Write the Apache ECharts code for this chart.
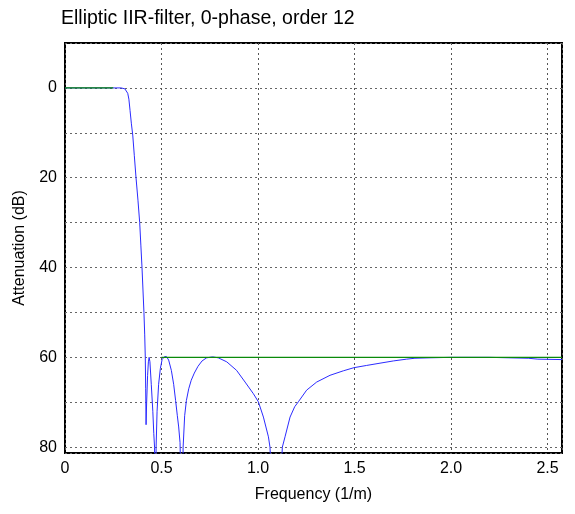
<!DOCTYPE html>
<html>
<head>
<meta charset="utf-8">
<script src="https://cdn.jsdelivr.net/npm/echarts@6/dist/echarts.min.js"></script>
<style>html,body{margin:0;padding:0;background:#fff;}#c{width:575px;height:514px;}</style>
</head>
<body>
<div id="c"></div>
<script>
const titleText = "Elliptic IIR-filter, 0-phase, order 12";
const xName = "Frequency (1/m)";
const yName = "Attenuation (dB)";
const xTickLabels = [0, 0.5, 1.0, 1.5, 2.0, 2.5];
const yTickLabels = [0, 20, 40, 60, 80];

// Filter response: [frequency, attenuation dB]
const responseFreq = [0, 0.1, 0.2, 0.29, 0.30, 0.31, 0.318, 0.325, 0.331, 0.337, 0.344, 0.351, 0.359, 0.368, 0.378, 0.387, 0.393, 0.399, 0.404, 0.409, 0.413, 0.416, 0.418, 0.420, 0.423, 0.428, 0.432, 0.436, 0.440, 0.447, 0.455, 0.460, 0.464, 0.469, 0.472, 0.477, 0.485, 0.494, 0.503, 0.514, 0.525, 0.537, 0.551, 0.563, 0.573, 0.582, 0.589, 0.596, 0.606, 0.612, 0.620, 0.629, 0.641, 0.654, 0.670, 0.689, 0.710, 0.734, 0.765, 0.794, 0.838, 0.889, 0.933, 0.976, 1.002, 1.028, 1.054, 1.062, 1.095, 1.126, 1.140, 1.166, 1.19, 1.209, 1.252, 1.304, 1.373, 1.442, 1.497, 1.563, 1.632, 1.701, 1.77, 1.813, 1.891, 2.0, 2.2, 2.3, 2.4, 2.45, 2.575];
const responseDb =   [0, 0, 0, 0, 0.05, 0.2, 0.5, 1.2, 2.5, 5, 8, 10.5, 15, 20, 25, 30, 35, 40, 45, 50, 55, 60, 67, 75, 70, 64, 61, 60, 61, 66, 72, 77, 80, 100, 80, 72, 66, 62.5, 60.5, 59.9, 59.8, 60.6, 62.9, 66, 69.6, 73, 75.5, 79, 100, 80, 73, 69.6, 67, 65.1, 63.5, 62, 60.8, 60.1, 59.9, 60.1, 61.0, 62.9, 65.5, 68.1, 69.9, 73.3, 77.7, 80, 110, 80, 77.7, 73.3, 71, 69.9, 67.3, 65.5, 64, 63, 62.3, 61.8, 61.3, 60.8, 60.4, 60.2, 60.1, 60.0, 60.0, 60.1, 60.2, 60.4, 60.5];

// Specification lines
const passFreq = [0, 0.25];
const passDb = [0, 0];
const stopFreq = [0.5, 2.575];
const stopDb = [60, 60];

const zip = (a, b) => a.map((v, i) => [v, b[i]]);

const chart = echarts.init(document.getElementById('c'), null, {renderer: 'canvas'});
const font = 'Liberation Sans, Arial, Helvetica, sans-serif';
chart.setOption({
  animation: false,
  backgroundColor: '#fff',
  title: {
    text: titleText,
    left: 56, top: 4,
    textStyle: {fontFamily: font, fontSize: 19.5, fontWeight: 'normal', color: '#000'}
  },
  grid: {
    left: 65, top: 43, right: 13, bottom: 61,
    show: true, borderColor: '#000', borderWidth: 2, backgroundColor: 'transparent'
  },
  xAxis: {
    type: 'value', min: 0, max: 2.575, interval: 0.5,
    name: xName, nameLocation: 'middle', nameGap: 34,
    nameTextStyle: {fontFamily: font, fontSize: 16, color: '#000'},
    axisLine: {show: false}, axisTick: {show: false},
    axisLabel: {
      fontFamily: font, fontSize: 16, color: '#000', margin: 8,
      formatter: v => {
        const m = xTickLabels.find(t => Math.abs(t - v) < 1e-6);
        return m === undefined ? '' : (m === 0 ? '0' : m.toFixed(1));
      }
    },
    splitLine: {show: true, lineStyle: {color: '#555', type: [2, 3], width: 1}}
  },
  yAxis: {
    type: 'value', inverse: true, min: -10, max: 81.3, interval: 10,
    name: yName, nameLocation: 'middle', nameGap: 37, nameRotate: 90,
    nameTextStyle: {fontFamily: font, fontSize: 16, color: '#000'},
    axisLine: {show: false}, axisTick: {show: false},
    axisLabel: {
      fontFamily: font, fontSize: 16, color: '#000', margin: 8,
      formatter: v => {
        const m = yTickLabels.find(t => Math.abs(t - v) < 1e-6);
        return m === undefined ? '' : String(m);
      }
    },
    splitLine: {show: true, lineStyle: {color: '#666', type: [2, 3], width: 1}}
  },
  series: [
    {
      type: 'line', data: zip(responseFreq, responseDb), showSymbol: false,
      lineStyle: {color: '#2b2bff', width: 1}, clip: true, z: 2
    },
    {
      type: 'line', data: zip(passFreq, passDb), showSymbol: false,
      lineStyle: {color: '#0a8a0a', width: 1.3}, z: 3
    },
    {
      type: 'line', data: zip(stopFreq, stopDb), showSymbol: false,
      lineStyle: {color: '#0a8a0a', width: 1.3}, z: 3
    }
  ]
});
</script>
</body>
</html>
